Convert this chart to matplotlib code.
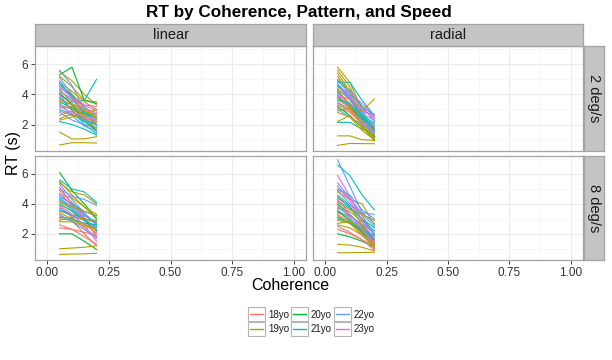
import matplotlib
matplotlib.use("Agg")
import matplotlib.pyplot as plt
from matplotlib.patches import Rectangle
from matplotlib.lines import Line2D

plt.rcParams['font.family'] = ['Liberation Sans', 'DejaVu Sans']

coherence = [0.05, 0.10, 0.15, 0.20]
age_levels = ["18yo", "19yo", "20yo", "21yo", "22yo", "23yo"]
age_colors = ["#F8766D", "#B79F00", "#00BA38", "#00BFC4", "#619CFF", "#F564E3"]

participant_age = ["18yo", "19yo", "19yo", "20yo", "21yo", "22yo", "19yo", "22yo", "18yo", "19yo",
                   "21yo", "22yo", "19yo", "20yo", "23yo", "19yo", "22yo", "21yo", "19yo", "18yo",
                   "22yo", "19yo", "20yo", "21yo", "23yo", "19yo", "22yo", "19yo", "21yo", "18yo",
                   "19yo", "22yo", "23yo", "19yo"]

rt_linear_2 = [
    [3.6, 3.3, 2.9, 2.6], [5.5, 4.9, 4.0, 3.3], [5.2, 4.5, 3.6, 3.5], [5.3, 5.8, 3.6, 3.4],
    [4.3, 3.5, 3.6, 5.0], [5.6, 4.6, 3.0, 2.0], [4.8, 4.2, 3.5, 3.0], [4.9, 3.7, 2.6, 1.5],
    [3.1, 3.2, 2.8, 2.7], [4.0, 3.4, 2.9, 2.4], [3.8, 3.0, 2.0, 1.4], [4.5, 3.8, 2.8, 2.3],
    [3.3, 3.0, 2.6, 2.2], [3.5, 3.1, 2.7, 2.5], [3.9, 3.6, 3.3, 3.2], [2.6, 2.9, 2.4, 1.6],
    [2.8, 2.3, 2.0, 1.8], [2.2, 2.0, 1.7, 1.3], [0.65, 0.8, 0.8, 0.78], [2.9, 2.6, 2.4, 2.2],
    [5.1, 4.0, 3.2, 2.6], [1.5, 1.05, 1.05, 1.2], [4.1, 3.3, 2.2, 1.6], [3.0, 2.7, 2.2, 2.0],
    [4.4, 3.9, 3.3, 2.9], [2.4, 2.7, 2.3, 2.1], [3.4, 2.6, 1.9, 1.6], [4.6, 4.0, 3.1, 2.4],
    [4.7, 3.9, 2.8, 1.9], [4.2, 3.7, 3.0, 2.8], [3.7, 3.3, 2.5, 1.7], [4.0, 2.9, 2.3, 2.0],
    [3.2, 2.8, 2.5, 2.3], [2.3, 2.5, 2.7, 3.0],
]

rt_radial_2 = [
    [4.4, 3.6, 2.6, 1.9], [5.8, 4.8, 3.0, 1.5], [5.6, 4.5, 2.8, 1.2], [4.2, 3.3, 2.2, 1.3],
    [4.8, 4.8, 3.6, 2.6], [5.0, 4.3, 3.2, 2.2], [5.4, 4.2, 2.6, 1.2], [4.6, 3.8, 2.8, 2.7],
    [3.9, 3.3, 2.5, 1.6], [5.2, 4.0, 2.4, 1.0], [2.15, 2.15, 1.7, 1.4], [4.7, 3.9, 2.7, 2.3],
    [2.9, 3.1, 2.9, 3.7], [3.8, 3.2, 2.4, 1.7], [4.3, 3.8, 3.0, 2.5], [3.3, 2.9, 2.0, 1.1],
    [3.5, 3.0, 2.3, 1.8], [3.6, 3.4, 2.6, 2.1], [0.62, 0.75, 0.74, 0.73], [3.1, 2.8, 2.1, 1.5],
    [4.1, 3.4, 2.5, 2.0], [1.25, 1.25, 1.0, 0.95], [3.2, 2.6, 1.8, 1.2], [4.9, 4.1, 3.2, 2.6],
    [4.5, 4.1, 3.4, 2.6], [2.8, 2.5, 1.6, 1.0], [4.0, 3.1, 2.2, 1.6], [3.7, 3.1, 2.0, 1.1],
    [4.6, 3.7, 2.5, 1.8], [3.4, 3.0, 2.2, 1.3], [4.3, 3.3, 1.9, 0.9], [3.0, 2.5, 2.0, 1.5],
    [3.9, 3.7, 3.0, 2.4], [2.2, 2.6, 1.8, 1.0],
]

rt_linear_8 = [
    [3.2, 2.9, 2.0, 1.2], [5.4, 4.8, 4.6, 4.0], [4.6, 4.4, 3.8, 3.0], [6.1, 4.9, 4.0, 3.0],
    [5.6, 5.0, 4.8, 4.1], [5.0, 4.5, 4.3, 3.9], [4.9, 4.1, 3.3, 2.6], [4.7, 3.9, 3.3, 2.7],
    [3.8, 3.1, 2.4, 1.8], [3.5, 3.3, 3.0, 2.9], [4.3, 3.7, 3.0, 2.2], [5.3, 4.3, 3.4, 2.6],
    [3.0, 2.9, 2.6, 2.4], [2.0, 2.0, 1.5, 0.95], [5.1, 4.0, 3.0, 1.8], [3.4, 3.0, 2.7, 2.0],
    [4.2, 3.6, 2.9, 2.4], [3.1, 3.0, 2.7, 2.6], [0.62, 0.65, 0.66, 0.7], [2.6, 2.3, 1.8, 1.3],
    [4.4, 3.8, 3.2, 2.8], [1.0, 1.05, 1.1, 1.2], [4.0, 3.5, 2.9, 2.2], [4.5, 4.0, 3.5, 3.2],
    [4.7, 3.9, 3.1, 2.1], [2.8, 2.8, 2.5, 2.3], [3.7, 3.3, 3.0, 2.7], [4.1, 3.8, 3.5, 3.2],
    [3.6, 3.2, 2.9, 2.5], [2.4, 2.3, 2.1, 1.9], [2.9, 3.1, 3.0, 2.8], [3.3, 2.8, 2.3, 1.7],
    [3.9, 3.3, 2.6, 1.5], [5.5, 4.6, 3.8, 3.3],
]

rt_radial_8 = [
    [3.3, 2.8, 2.0, 1.3], [5.0, 4.4, 3.2, 2.0], [4.8, 4.3, 4.0, 2.6], [4.0, 3.3, 2.5, 1.6],
    [6.6, 5.9, 4.6, 3.6], [6.95, 5.2, 3.4, 2.7], [4.5, 3.8, 2.6, 1.4], [5.4, 4.4, 3.3, 2.5],
    [3.9, 3.1, 2.1, 1.0], [3.7, 3.5, 2.8, 2.0], [4.2, 3.7, 3.0, 2.4], [4.6, 3.9, 3.4, 3.3],
    [2.9, 2.7, 2.2, 1.5], [2.0, 1.8, 1.5, 1.1], [5.9, 4.5, 2.9, 1.0], [3.4, 3.2, 2.6, 1.7],
    [3.6, 3.0, 2.4, 1.8], [4.4, 3.8, 2.9, 2.2], [0.73, 0.74, 0.75, 0.77], [2.5, 2.1, 1.6, 0.9],
    [4.9, 4.0, 3.0, 1.9], [1.3, 1.25, 1.1, 0.85], [3.5, 2.9, 2.1, 1.4], [3.0, 2.8, 2.3, 1.9],
    [5.2, 4.2, 2.9, 1.6], [2.7, 2.8, 2.4, 1.3], [3.8, 3.2, 2.6, 2.2], [4.1, 3.6, 3.3, 2.9],
    [3.1, 2.7, 2.3, 1.6], [2.3, 2.0, 1.6, 1.2], [3.2, 2.7, 1.9, 1.1], [5.0, 4.6, 3.6, 3.0],
    [4.3, 3.3, 2.3, 1.4], [2.6, 2.4, 1.9, 1.2],
]

patterns = ["linear", "radial"]
speeds = ["2 deg/s", "8 deg/s"]
panel_data = {("linear", "2 deg/s"): rt_linear_2, ("radial", "2 deg/s"): rt_radial_2,
              ("linear", "8 deg/s"): rt_linear_8, ("radial", "8 deg/s"): rt_radial_8}

x_ticks = [0.0, 0.25, 0.5, 0.75, 1.0]
x_ticklabels = ["0.00", "0.25", "0.50", "0.75", "1.00"]
y_ticks = [2, 4, 6]

W, H = 612, 360
fig = plt.figure(figsize=(W / 100, H / 100), dpi=100)
fig.patch.set_facecolor("white")

def fr(x0, y0, x1, y1):
    return [x0 / W, 1 - y1 / H, (x1 - x0) / W, (y1 - y0) / H]

col_x = [(35, 306), (313, 583)]
row_y = [(46, 151), (156, 260)]
border = "#A3A3A3"
strip_fill = "#C4C4C4"
color_map = dict(zip(age_levels, age_colors))

for r, sp in enumerate(speeds):
    for c, pat in enumerate(patterns):
        x0, x1 = col_x[c]
        y0, y1 = row_y[r]
        ax = fig.add_axes(fr(x0, y0, x1, y1))
        ax.set_xlim(-0.05, 1.05)
        ax.set_ylim(0.25, 7.2)
        ax.set_xticks(x_ticks)
        ax.set_xticks([0.125, 0.375, 0.625, 0.875], minor=True)
        ax.set_yticks(y_ticks)
        ax.set_yticks([1, 3, 5, 7], minor=True)
        ax.grid(which="major", color="#EBEBEB", linewidth=0.8)
        ax.grid(which="minor", color="#F6F6F6", linewidth=0.6)
        ax.set_axisbelow(True)
        for s in ax.spines.values():
            s.set_color(border)
            s.set_linewidth(0.9)
        ax.tick_params(which="minor", length=0)
        ax.tick_params(which="major", length=3, width=0.7, color="#444444",
                       labelsize=8.5, labelcolor="#333333", pad=2)
        if r == 1:
            ax.set_xticklabels(x_ticklabels)
        else:
            ax.tick_params(axis="x", labelbottom=False, length=0)
        if c == 0:
            ax.set_yticklabels([str(v) for v in y_ticks])
        else:
            ax.tick_params(axis="y", labelleft=False, length=0)
        rows = panel_data[(pat, sp)]
        for age, vals in zip(participant_age, rows):
            ax.plot(coherence, vals, color=color_map[age], linewidth=0.8,
                    solid_joinstyle="round")
        if r == 0:
            sax = fig.add_axes(fr(x0, 24, x1, 46))
            sax.set_xticks([]); sax.set_yticks([])
            sax.set_facecolor(strip_fill)
            for s in sax.spines.values():
                s.set_color(border); s.set_linewidth(0.9)
            sax.text(0.5, 0.5, pat, ha="center", va="center", fontsize=10.5,
                     color="#1A1A1A", transform=sax.transAxes)
        if c == 1:
            sax = fig.add_axes(fr(584, y0, 604, y1))
            sax.set_xticks([]); sax.set_yticks([])
            sax.set_facecolor(strip_fill)
            for s in sax.spines.values():
                s.set_color(border); s.set_linewidth(0.9)
            sax.text(0.5, 0.5, sp, ha="center", va="center", fontsize=10.5,
                     rotation=-90, color="#1A1A1A", transform=sax.transAxes)

fig.text(299 / W, 1 - 12 / H, "RT by Coherence, Pattern, and Speed", ha="center",
         va="center", fontsize=12.3, fontweight="bold")
fig.text(290 / W, 1 - 286 / H, "Coherence", ha="center", va="center", fontsize=11.5)
fig.text(14 / W, 1 - 153 / H, "RT (s)", ha="center", va="center", fontsize=11.5,
         rotation=90)

for i, (lab, col) in enumerate(zip(age_levels, age_colors)):
    cx = 248 + (i // 2) * 43
    cy = 307 + (i % 2) * 15
    fig.patches.append(Rectangle((cx / W, 1 - (cy + 14) / H), 17 / W, 14 / H,
                                 transform=fig.transFigure, facecolor="white",
                                 edgecolor="#B5B5B5", linewidth=0.8, zorder=1))
    fig.lines.append(Line2D([(cx + 2) / W, (cx + 15) / W], [1 - (cy + 7) / H] * 2,
                            transform=fig.transFigure, color=col, linewidth=1.0,
                            zorder=3))
    fig.text((cx + 20) / W, 1 - (cy + 7.5) / H, lab, ha="left", va="center",
             fontsize=7, color="#1A1A1A")

fig.savefig("out.png", dpi=100)
